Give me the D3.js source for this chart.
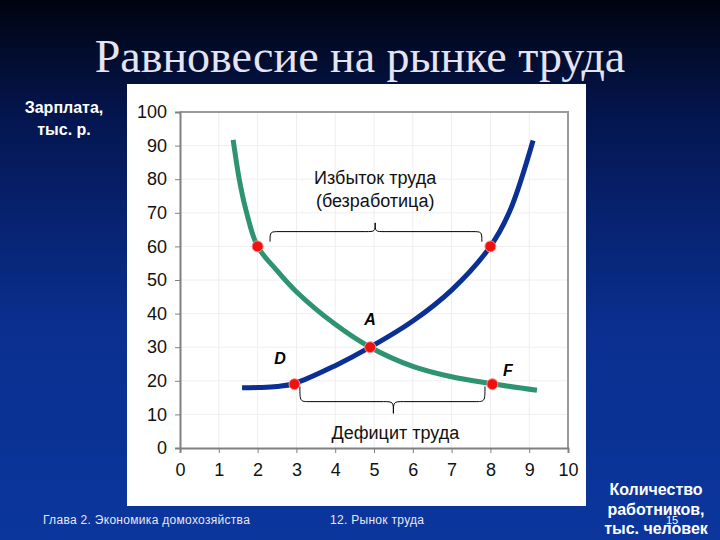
<!DOCTYPE html>
<meta charset="utf-8">
<head>
<title>Равновесие на рынке труда</title>
<script src="https://d3js.org/d3.v7.min.js"></script>
<style>
  body { margin: 0; background: #000; }
  svg { display: block; }
</style>
</head>
<body>
<svg id="chart" width="720" height="540"></svg>
<script>
// данные
var xTicks = [0,1,2,3,4,5,6,7,8,9,10]
var yTicks = [0,10,20,30,40,50,60,70,80,90,100]
// кривая спроса (зелёная)
var demandX = [1.37, 1.53, 1.70, 2.0, 2.5, 3.0, 4.0, 4.9, 6.0, 7.0, 8.0, 9.2]
var demandY = [91.7, 79.8, 70.8, 60.0, 52.8, 46.5, 36.8, 30.0, 24.3, 21.2, 19.2, 17.2]
// кривая предложения (синяя)
var supplyX = [1.6, 2.0, 2.5, 2.95, 4.0, 4.9, 6.0, 7.0, 8.0, 8.5, 9.1]
var supplyY = [17.9, 18.0, 18.3, 19.2, 24.5, 30.0, 37.8, 47.0, 60.0, 70.5, 91.5]
// отмеченные точки
var dotX = [2.0, 8.0, 4.9, 2.95, 8.05]
var dotY = [60, 60, 30, 19, 19]
var letters = ["A", "D", "F"]
var letterX = [4.9, 2.58, 8.45]
var letterY = [36.5, 25, 21.5]

var svg = d3.select("#chart")

// фон слайда
var defs = svg.append("defs")
var grad = defs.append("linearGradient").attr("id", "bg")
    .attr("x1", 0).attr("y1", 0).attr("x2", 0).attr("y2", 1)
grad.append("stop").attr("offset", "0%").attr("stop-color", "#000410")
grad.append("stop").attr("offset", "22%").attr("stop-color", "#041650")
grad.append("stop").attr("offset", "60%").attr("stop-color", "#0a2f8f")
grad.append("stop").attr("offset", "100%").attr("stop-color", "#0b369c")
svg.append("rect").attr("width", 720).attr("height", 540).attr("fill", "url(#bg)")

// заголовок
svg.append("text")
    .attr("x", 360).attr("y", 72)
    .attr("text-anchor", "middle")
    .style("font-family", "'Liberation Serif', 'DejaVu Serif', serif")
    .style("font-size", "46px")
    .style("fill", "#e4e4f2")
    .text("Равновесие на рынке труда")

// белая панель графика
svg.append("rect")
    .attr("x", 127).attr("y", 84)
    .attr("width", 459).attr("height", 422)
    .attr("fill", "#ffffff")

var x = d3.scaleLinear().domain([0, 10]).range([180, 568])
var y = d3.scaleLinear().domain([0, 100]).range([448, 112])

var g = svg.append("g")

// сетка
g.selectAll(".vgrid").data(xTicks.slice(1)).enter().append("line")
    .attr("x1", d => x(d)).attr("x2", d => x(d))
    .attr("y1", y(0)).attr("y2", y(100))
    .attr("stroke", "#eeeeee").attr("stroke-width", 1)
g.selectAll(".hgrid").data(yTicks.slice(1)).enter().append("line")
    .attr("x1", x(0)).attr("x2", x(10))
    .attr("y1", d => y(d)).attr("y2", d => y(d))
    .attr("stroke", "#eeeeee").attr("stroke-width", 1)

// рамка сверху и справа
g.append("path")
    .attr("d", "M" + x(0) + "," + y(100) + "H" + x(10) + "V" + y(0))
    .attr("fill", "none").attr("stroke", "#9a9a9a").attr("stroke-width", 2)

// оси
var xAxis = g.append("g")
    .attr("transform", "translate(0," + y(0) + ")")
    .call(d3.axisBottom(x).tickValues(xTicks).tickSize(5).tickPadding(10).tickFormat(d3.format("d")))
var yAxis = g.append("g")
    .attr("transform", "translate(" + x(0) + ",0)")
    .call(d3.axisLeft(y).tickValues(yTicks).tickSize(5).tickPadding(8).tickFormat(d3.format("d")))
;[xAxis, yAxis].forEach(function(a) {
    a.select(".domain").attr("stroke", "#808080").attr("stroke-width", 2)
    a.selectAll(".tick line").attr("stroke", "#808080")
    a.selectAll("text")
        .style("font-family", "'Liberation Sans', Arial, sans-serif")
        .style("font-size", "18px")
        .style("fill", "#111")
})

// кривые
var line = d3.line()
    .x(function(d) { return x(d[0]) })
    .y(function(d) { return y(d[1]) })
    .curve(d3.curveCatmullRom.alpha(0.5))

g.append("path")
    .datum(d3.zip(demandX, demandY))
    .attr("d", line)
    .attr("fill", "none").attr("stroke", "#2e9470").attr("stroke-width", 5)

g.append("path")
    .datum(d3.zip(supplyX, supplyY))
    .attr("d", line)
    .attr("fill", "none").attr("stroke", "#0a2f95").attr("stroke-width", 5)

// фигурные скобки: [x1, x2, линия, кончики, вершина, центр по x]
function brace(x1, x2, yl, yt, yp, xc) {
    var X1 = x(x1), X2 = x(x2), YL = y(yl), YT = y(yt), YP = y(yp), XC = x(xc)
    var r = 10
    return "M" + X1 + "," + YT +
        "C" + X1 + "," + YL + " " + X1 + "," + YL + " " + (X1 + r) + "," + YL +
        "H" + (XC - r) +
        "C" + XC + "," + YL + " " + XC + "," + YL + " " + XC + "," + YP +
        "C" + XC + "," + YL + " " + XC + "," + YL + " " + (XC + r) + "," + YL +
        "H" + (X2 - r) +
        "C" + X2 + "," + YL + " " + X2 + "," + YL + " " + X2 + "," + YT
}
var braceTop = [2.32, 7.78, 64.4, 61.4, 67.0, 5.03]
var braceBottom = [3.09, 7.86, 13.8, 18.3, 10.3, 5.5]
;[braceTop, braceBottom].forEach(function(b) {
    g.append("path")
        .attr("d", brace.apply(null, b))
        .attr("fill", "none").attr("stroke", "#000").attr("stroke-width", 1)
})

// точки
g.selectAll(".dot").data(d3.zip(dotX, dotY)).enter().append("circle")
    .attr("cx", d => x(d[0])).attr("cy", d => y(d[1]))
    .attr("r", 5.5)
    .attr("fill", "#f01010").attr("stroke", "#ff9090").attr("stroke-width", 1)

// буквы
g.selectAll(".letter").data(d3.zip(letters, letterX, letterY)).enter().append("text")
    .attr("x", d => x(d[1])).attr("y", d => y(d[2]))
    .attr("text-anchor", "middle")
    .style("font-family", "'Liberation Sans', Arial, sans-serif")
    .style("font-size", "16px").style("font-weight", "bold").style("font-style", "italic")
    .text(d => d[0])

// подписи в поле графика
var chartText = function(tx, ty, t) {
    g.append("text").attr("x", x(tx)).attr("y", y(ty))
        .attr("text-anchor", "middle")
        .style("font-family", "'Liberation Sans', Arial, sans-serif")
        .style("font-size", "18px").style("fill", "#111")
        .text(t)
}
chartText(5.03, 78.5, "Избыток труда")
chartText(5.03, 71.6, "(безработица)")
chartText(5.55, 2.6, "Дефицит труда")

// подписи осей (белые, на синем фоне)
var whiteText = function(tx, ty, t, size, weight) {
    svg.append("text").attr("x", tx).attr("y", ty)
        .attr("text-anchor", "middle")
        .style("font-family", "'Liberation Sans', Arial, sans-serif")
        .style("font-size", size).style("font-weight", weight)
        .style("fill", "#ffffff")
        .text(t)
}
whiteText(64, 113, "Зарплата,", "16px", "bold")
whiteText(64, 135, "тыс. р.", "16px", "bold")
whiteText(656, 495, "Количество", "16px", "bold")
whiteText(656, 515, "работников,", "16px", "bold")
whiteText(656, 534, "тыс. человек", "16px", "bold")
whiteText(672, 524, "15", "11px", "normal")

// колонтитулы
svg.append("text").attr("x", 43).attr("y", 524)
    .style("font-family", "'Liberation Sans', Arial, sans-serif")
    .style("font-size", "12px").style("letter-spacing", "0.3px").style("fill", "#e8e8f4")
    .text("Глава 2. Экономика домохозяйства")
svg.append("text").attr("x", 330).attr("y", 524)
    .style("font-family", "'Liberation Sans', Arial, sans-serif")
    .style("font-size", "12px").style("letter-spacing", "0.3px").style("fill", "#e8e8f4")
    .text("12. Рынок труда")
</script>
</body>
